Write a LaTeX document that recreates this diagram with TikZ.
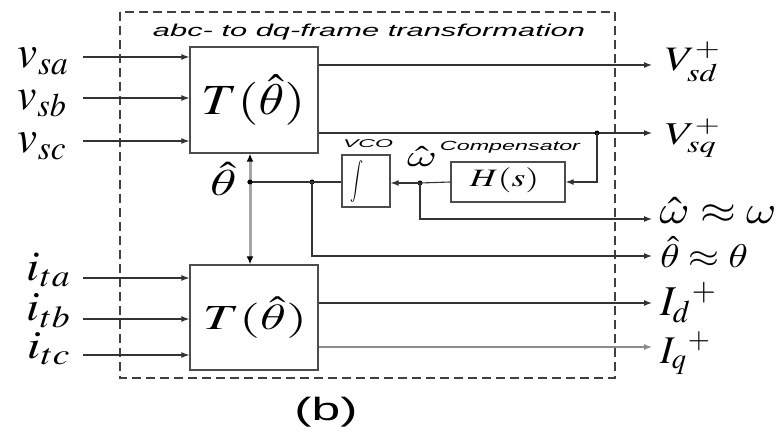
\documentclass[tikz,border=0pt]{standalone}
\usepackage{mathptmx}
\DeclareSymbolFont{cmlett}{OML}{cmm}{m}{it}
\DeclareMathSymbol{\ith}{\mathord}{cmlett}{"12}
\DeclareMathSymbol{\iom}{\mathord}{cmlett}{"21}
\usepackage[no-math]{fontspec}
\setmainfont{Liberation Serif}
\setsansfont{Liberation Sans}
\usetikzlibrary{arrows.meta}
\newcommand{\fitbox}[3]{\resizebox*{#1pt}{#2pt}{#3}}
\tikzset{
  blk/.style={draw=black!70, line width=1.3pt, fill=white, inner sep=0pt},
  sig/.style={draw=black!80, line width=1.1pt},
  arr/.style={sig, -{Latex[length=8pt,width=6pt]}},
  dotn/.style={circle, fill=black, inner sep=0pt, minimum size=5pt},
  lbl/.style={inner sep=0pt},
}
\begin{document}
\begin{tikzpicture}[x=1pt,y=-1pt]
\useasboundingbox (0,0) rectangle (783,435);
% frame
\draw[draw=black!75, line width=1.5pt, dash pattern=on 9pt off 5pt] (120,12) rectangle (615,378);
\node[lbl] (title) at (369,32) {\fitbox{432}{16}{\sffamily\itshape abc- to dq-frame transformation}};
% blocks
\node[blk, minimum width=128pt, minimum height=106pt] (T1) at (254,100) {};
\node[lbl] (T1t) at (253.5,100) {\fitbox{103}{50}{$T(\hat{\ith})$}};
\node[blk, minimum width=128pt, minimum height=105pt] (T2) at (254,317.5) {};
\node[lbl] (T2t) at (255,317.5) {\fitbox{104}{41}{$T(\hat{\ith})$}};
\node[blk, minimum width=114pt, minimum height=40pt] (H) at (508,182) {};
\node[lbl] (Ht) at (504.5,180.5) {\fitbox{69}{25}{$H(s)$}};
\node[blk, minimum width=48pt, minimum height=52pt] (I) at (366,181) {};
\node[lbl] (It) at (357,182) {\fitbox{13}{42}{$\displaystyle\int$}};
\node[lbl] (comp) at (510,147.5) {\fitbox{140}{12}{\sffamily\itshape Compensator}};
\node[lbl] (vco) at (368,144) {\fitbox{50}{8}{\sffamily\itshape VCO}};
% inputs
\coordinate (va) at (83,57);
\coordinate (vb) at (83,98);
\coordinate (vc) at (83,141);
\coordinate (ia) at (83,278);
\coordinate (ib) at (83,319);
\coordinate (ic) at (83,355);
\node[lbl] (lva) at (44,61.5) {\fitbox{52}{27}{$v_{sa}$}};
\node[lbl] (lvb) at (43,103.5) {\fitbox{50}{27}{$v_{sb}$}};
\node[lbl] (lvc) at (43,146.5) {\fitbox{50}{27}{$v_{sc}$}};
\node[lbl] (lia) at (49.5,270) {\fitbox{45}{34}{$i_{ta}$}};
\node[lbl] (lib) at (49.5,311) {\fitbox{45}{34}{$i_{tb}$}};
\node[lbl] (lic) at (49.5,349) {\fitbox{45}{32}{$i_{tc}$}};
\draw[arr] (va) -- (va -| T1.west);
\draw[arr] (vb) -- (vb -| T1.west);
\draw[arr] (vc) -- (vc -| T1.west);
\draw[arr] (ia) -- (ia -| T2.west);
\draw[arr] (ib) -- (ib -| T2.west);
\draw[arr] (ic) -- (ic -| T2.west);
% outputs
\coordinate (ovd) at (652,65);
\coordinate (ovq) at (652,133);
\coordinate (ow) at (652,219);
\coordinate (oth) at (652,256);
\coordinate (oid) at (652,303);
\coordinate (oiq) at (652,347);
\node[lbl] (lvd) at (693.5,62) {\fitbox{57}{40}{$V_{sd}^{+}$}};
\node[lbl] (lvq) at (693.5,138) {\fitbox{57}{38}{$V_{sq}^{+}$}};
\node[lbl] (lw) at (718,210) {\fitbox{117}{26}{$\hat{\iom}\approx\iom$}};
\node[lbl] (lth) at (704,252) {\fitbox{88}{30}{$\hat{\ith}\approx\ith$}};
\node[lbl] (lid) at (689,302.5) {\fitbox{58}{41}{$I_{d}{}^{+}$}};
\node[lbl] (liq) at (686,353.5) {\fitbox{52}{43}{$I_{q}{}^{+}$}};
\draw[arr] (ovd -| T1.east) -- (ovd);
\draw[arr] (ovq -| T1.east) -- (ovq);
\draw[arr] (oid -| T2.east) -- (oid);
\draw[arr, draw=black!45] (oiq -| T2.east) -- (oiq);
% PLL loop
\node[dotn] (dq) at (597,133) {};
\node[dotn] (dw) at (420,183) {};
\node[dotn] (dt2) at (312,182) {};
\node[dotn] (dt1) at (250,182) {};
\draw[arr] (dq.center) |- (H.east);
\draw[sig] (H.west) -- (dw.center);
\draw[arr] (dw.center) -- (I.east |- dw);
\draw[sig] (I.west |- dt2) -- (dt1.center);
\draw[arr] (dw.center) |- (ow);
\draw[arr] (dt2.center) |- (oth);
\node[lbl] (lthh) at (223.5,178.5) {\fitbox{27}{33}{$\hat{\ith}$}};
\node[lbl] (lww) at (422,157) {\fitbox{30}{20}{$\hat{\iom}$}};
% double arrow
\draw[draw=black!35, line width=3pt, {Latex[length=8pt,width=7pt,color=black]}-{Latex[length=8pt,width=7pt,color=black]}] (T1.south -| dt1) -- (T2.north -| dt1);
\node[dotn] at (dt1) {};
\node[lbl] (cap) at (326,412) {\fitbox{63}{30}{\sffamily (b)}};
\end{tikzpicture}
\end{document}
